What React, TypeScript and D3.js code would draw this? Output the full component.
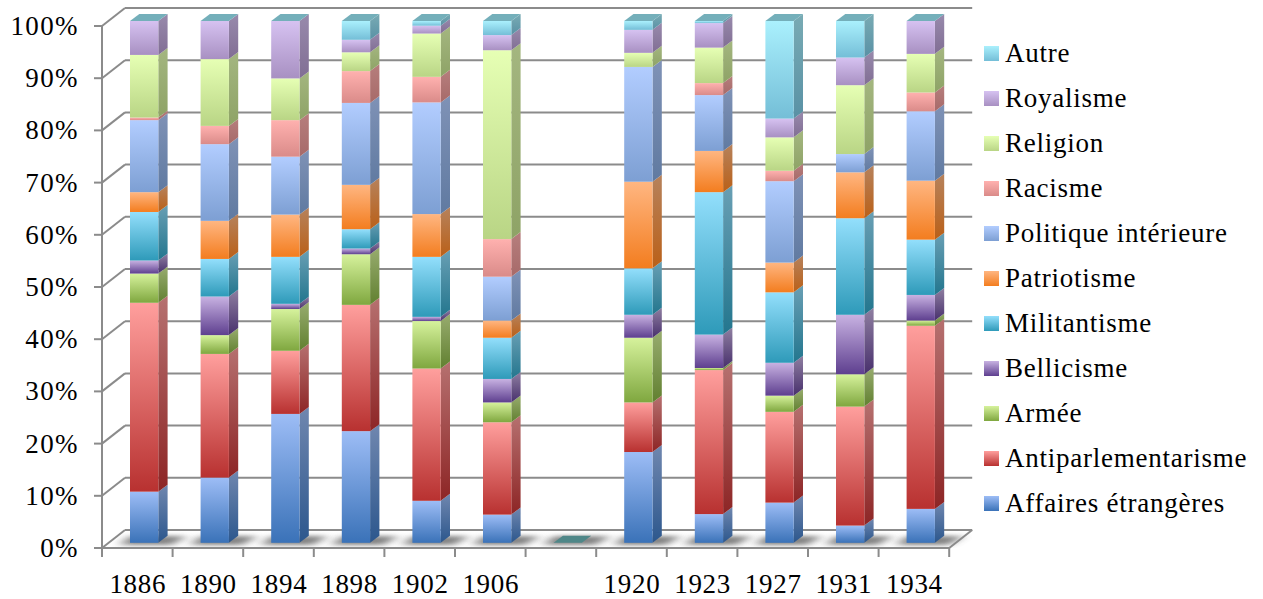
import React from "react";
import * as d3 from "d3";

const categories = ["1886", "1890", "1894", "1898", "1902", "1906", "", "1920", "1923", "1927", "1931", "1934"];
const yTicks = [0, 10, 20, 30, 40, 50, 60, 70, 80, 90, 100];

const affaires = [9.8, 12.5, 24.7, 21.4, 8.05, 5.4, 0, 17.4, 5.5, 7.7, 3.3, 6.5];
const antiparl = [36.2, 23.7, 12.1, 24.2, 25.35, 17.7, 0, 9.5, 27.6, 17.4, 22.8, 35.1];
const armee = [5.6, 3.6, 8.0, 9.7, 9.1, 3.8, 0, 12.4, 0.4, 3.1, 6.2, 1.0];
const bellicisme = [2.5, 7.4, 1.0, 1.1, 0.8, 4.5, 0, 4.4, 6.4, 6.3, 11.4, 4.9];
const militantisme = [9.3, 7.2, 9.0, 3.7, 11.5, 7.9, 0, 8.9, 27.3, 13.5, 18.5, 10.6];
const patriotisme = [3.8, 7.3, 8.1, 8.5, 8.2, 3.3, 0, 16.6, 7.9, 5.7, 8.8, 11.3];
const politique = [13.8, 14.7, 11.1, 15.7, 21.4, 8.4, 0, 22.0, 10.7, 15.6, 3.5, 13.3];
const racisme = [0.5, 3.5, 7.0, 6.1, 4.9, 7.2, 0, 0, 2.3, 2.0, 0, 3.6];
const religion = [12.0, 12.8, 8.0, 3.6, 8.3, 36.2, 0, 2.7, 6.8, 6.4, 13.2, 7.4];
const royalisme = [6.5, 7.3, 11.0, 2.4, 1.5, 2.9, 0, 4.4, 4.7, 3.6, 5.3, 6.3];
const autre = [0, 0, 0, 3.6, 0.9, 2.7, 0, 1.7, 0.4, 18.7, 7.0, 0];

const seriesNames = ["Affaires étrangères", "Antiparlementarisme", "Armée", "Bellicisme", "Militantisme", "Patriotisme", "Politique intérieure", "Racisme", "Religion", "Royalisme", "Autre"];
const seriesValues = [affaires, antiparl, armee, bellicisme, militantisme, patriotisme, politique, racisme, religion, royalisme, autre];
const topColors = ["#9dbdf6", "#ff9f9d", "#d6f29c", "#c8b2e2", "#93dffc", "#ffb681", "#b2cdff", "#ffb1af", "#e6ffb4", "#d6c2f1", "#aaf0fd"];
const bottomColors = ["#3a72b8", "#b83130", "#7fa73f", "#5e3f8f", "#2e9ab9", "#f37d1f", "#7d9fd3", "#da8b89", "#b9d585", "#a890c2", "#74bed7"];

const FONT = "'Liberation Serif', serif";
const W = 1263;
const H = 599;
const FX0 = 102, FX1 = 949.2, FY0 = 548, FY1 = 26;
const DX = 23, DY = 18;
const BAR_OFF = 28, BAR_W = 28.3, SX = 9.3, SY = 7;

const x = d3.scaleBand<string>().domain(categories).range([FX0, FX1]);
const yAxis = d3.scaleLinear().domain([0, 100]).range([FY0, FY1]);
const yBar = d3.scaleLinear().domain([0, 100]).range([542.8, 21]);

const rows = categories.map((c, i) => {
  const r: Record<string, number | string> = { c };
  seriesNames.forEach((n, k) => (r[n] = seriesValues[k][i]));
  return r;
});
const stacked = d3.stack<any>().keys(seriesNames)(rows);

const poly = (p: number[][]) => p.map((q) => q.join(",")).join(" ");
const GRID = "#8b8b8b";

export default function App() {
  const ticksX = [...categories.map((c) => x(c) as number), FX1];
  return (
    <svg width={W} height={H} style={{ position: "absolute", left: 0, top: 0, background: "#fff" }} fontFamily={FONT}>
      <defs>
        {seriesNames.map((n, k) => (
          <React.Fragment key={n}>
            <linearGradient id={`f${k}`} x1="0" y1="0" x2="0" y2="1">
              <stop offset="0" stopColor={topColors[k]} />
              <stop offset="1" stopColor={bottomColors[k]} />
            </linearGradient>
            <linearGradient id={`s${k}`} x1="0" y1="0" x2="0" y2="1">
              <stop offset="0" stopColor={d3.rgb(topColors[k]).darker(0.95).formatHex()} />
              <stop offset="1" stopColor={d3.rgb(bottomColors[k]).darker(0.75).formatHex()} />
            </linearGradient>
          </React.Fragment>
        ))}
        <filter id="blur" x="-40%" y="-120%" width="180%" height="340%">
          <feGaussianBlur stdDeviation="6 2" />
        </filter>
        <clipPath id="floor">
          <rect x={FX0} y={FY0 - DY} width={FX1 - FX0 + DX} height={DY} />
        </clipPath>
      </defs>

      {/* back wall gridlines and side diagonals */}
      {yTicks.map((t) => {
        const y = yAxis(t);
        return (
          <g key={t} stroke={GRID} strokeWidth={2} fill="none">
            <line x1={FX0 + DX} x2={FX1 + DX} y1={y - DY} y2={y - DY} />
            <line x1={FX0} y1={y} x2={FX0 + DX} y2={y - DY} />
            <line x1={FX0 - 8} x2={FX0} y1={y} y2={y} />
          </g>
        );
      })}

      {/* floor shadows */}
      <g clipPath="url(#floor)">
        {categories.map((c) => {
          const b = (x(c) as number) + BAR_OFF;
          return (
            <polygon
              key={c}
              points={poly([
                [b - 10, 545],
                [b, 536],
                [b + BAR_W + 28, 536],
                [b + BAR_W + 14, 545],
              ])}
              fill="#6e6e6e"
              opacity={0.85}
              filter="url(#blur)"
            />
          );
        })}
      </g>

      {/* bars */}
      {categories.map((c, i) => {
        const b = (x(c) as number) + BAR_OFF;
        const total = d3.sum(seriesValues, (s) => s[i]);
        return (
          <g key={c}>
            {stacked.map((layer, k) => {
              const [v0, v1] = layer[i];
              if (v1 - v0 <= 0) return null;
              const y0 = yBar(v0);
              const y1 = yBar(v1);
              return (
                <g key={k}>
                  <polygon
                    points={poly([
                      [b + BAR_W, y1],
                      [b + BAR_W + SX, y1 - SY],
                      [b + BAR_W + SX, y0 - SY],
                      [b + BAR_W, y0],
                    ])}
                    fill={`url(#s${k})`}
                  />
                  <rect x={b} y={y1} width={BAR_W} height={y0 - y1} fill={`url(#f${k})`} />
                </g>
              );
            })}
            {(() => {
              const yt = yBar(total);
              return (
                <polygon
                  points={poly([
                    [b, yt],
                    [b + SX, yt - SY],
                    [b + BAR_W + SX, yt - SY],
                    [b + BAR_W, yt],
                  ])}
                  fill={total > 0 ? "#74afba" : "#4f8788"}
                />
              );
            })()}
          </g>
        );
      })}

      {/* front axes */}
      <g stroke={GRID} strokeWidth={2} fill="none">
        <line x1={FX0} x2={FX0} y1={FY1} y2={FY0 + 1} />
        <line x1={FX0} x2={FX1} y1={FY0} y2={FY0} />
        <line x1={FX1} y1={FY0} x2={FX1 + DX} y2={FY0 - DY} />
        {ticksX.map((t, i) => (
          <line key={i} x1={t} x2={t} y1={FY0} y2={FY0 + 9} />
        ))}
      </g>

      {/* tick labels */}
      {yTicks.map((t) => (
        <text key={t} x={79} y={yAxis(t) + 9} textAnchor="end" fontSize={27} letterSpacing={1.4} fill="#000">
          {t}%
        </text>
      ))}
      {categories.map((c) => (
        <text
          key={c}
          x={(x(c) as number) + x.bandwidth() / 2 + 0.5}
          y={592.5}
          textAnchor="middle"
          fontSize={27}
          letterSpacing={0.7}
          fill="#000"
        >
          {c}
        </text>
      ))}

      {/* legend */}
      {seriesNames.map((n, k) => {
        const row = seriesNames.length - 1 - k;
        const y = 46 + row * 45;
        return (
          <g key={n}>
            <rect x={984} y={y} width={15} height={15} fill={`url(#f${k})`} />
            <text x={1005} y={y + 15.7} fontSize={27} letterSpacing={0.75} fill="#000">
              {n}
            </text>
          </g>
        );
      })}
    </svg>
  );
}
